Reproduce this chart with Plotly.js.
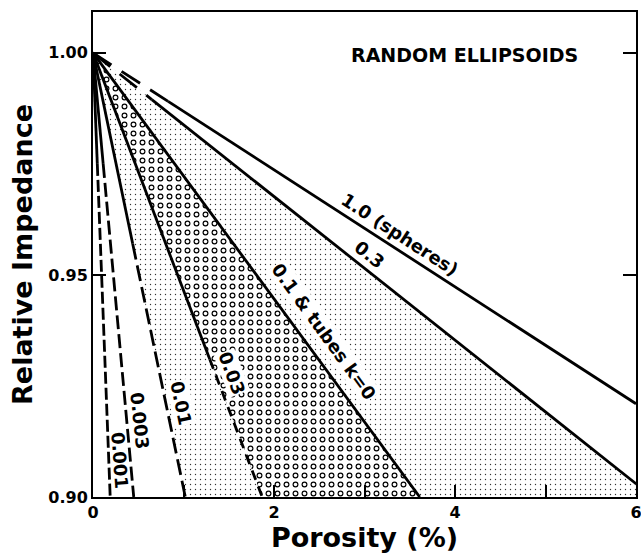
<!DOCTYPE html>
<html><head><meta charset="utf-8">
<script src="https://cdn.plot.ly/plotly-3.0.1.min.js"></script>
<style>html,body{margin:0;padding:0;background:#fff}</style>
</head><body><div id="chart" style="width:641px;height:559px"></div>
<script>
// Aspect ratio of the random ellipsoids (curve labels)
const aspectLabels = ['0.001', '0.003', '0.01', '0.03', '0.1 & tubes k=0', '0.3', '1.0 (spheres)'];
// Every curve starts at porosity 0, impedance 1.00
const startPorosity = 0;
const startImpedance = 1.00;
// End point of each curve (porosity %, relative impedance)
const endPorosity = [0.19, 0.45, 1.02, 1.87, 3.61, 6.0, 6.0];
const endImpedance = [0.900, 0.900, 0.900, 0.900, 0.900, 0.903, 0.921];
// Steep curves: drawn solid down to this impedance, dashed below it
const solidDownToImpedance = [0.975, 0.975, 0.957, 0.931, 0.900, null, null];
// Shallow curves: drawn dashed up to this porosity, solid beyond it
const dashedUpToPorosity = [null, null, null, null, null, 0.65, 0.83];
// Axis ticks
const yTicks = [0.90, 0.95, 1.00];
const yTickText = ['0.90', '0.95', '1.00'];

const X_MAX = 6, Y_MIN = 0.90, Y_MAX = 1.0092;
const FONT = 'DejaVu Sans';
const dashes = ['12px,4px', '14px,5px', '16px,6px', '10px,7px', 'solid', '22px,12px', '22px,12px'];

function yAt(i, x) { return startImpedance + (endImpedance[i] - startImpedance) * (x - startPorosity) / (endPorosity[i] - startPorosity); }
function xAt(i, y) { return startPorosity + (endPorosity[i] - startPorosity) * (startImpedance - y) / (startImpedance - endImpedance[i]); }

const traces = [];
// shaded regions
function region(xs, ys, pattern) {
  traces.push({x: xs, y: ys, type: 'scatter', mode: 'lines', fill: 'toself', line: {width: 0, color: 'rgba(0,0,0,0)'},
    fillcolor: 'rgba(0,0,0,0)', fillpattern: pattern, hoverinfo: 'skip', showlegend: false});
}
const fineDots = {shape: '.', size: 5, solidity: 0.06, fgcolor: '#333', bgcolor: 'rgba(255,255,255,0)'};
// between 0.01 and 0.03
region([startPorosity, endPorosity[2], endPorosity[3], startPorosity], [startImpedance, endImpedance[2], endImpedance[3], startImpedance], fineDots);
// open circles between 0.03 and 0.1
const bx = [startPorosity, endPorosity[3], endPorosity[4], startPorosity];
const by = [startImpedance, endImpedance[3], endImpedance[4], startImpedance];
region(bx, by, {shape: '.', size: 9, solidity: 0.34, fgcolor: '#000', bgcolor: 'rgba(255,255,255,0)'});
region(bx, by, {shape: '.', size: 9, solidity: 0.12, fgcolor: '#fff', bgcolor: 'rgba(255,255,255,0)'});
// between 0.1 and 0.3
region([startPorosity, endPorosity[4], X_MAX, endPorosity[5], startPorosity],
       [startImpedance, endImpedance[4], Y_MIN, endImpedance[5], startImpedance], fineDots);

function seg(x0, y0, x1, y1, dash) {
  traces.push({x: [x0, x1], y: [y0, y1], type: 'scatter', mode: 'lines',
    line: {color: '#000', width: 2.8, dash: dash}, hoverinfo: 'skip', showlegend: false});
}
for (let i = 0; i < aspectLabels.length; i++) {
  if (solidDownToImpedance[i] !== null) {
    const yb = solidDownToImpedance[i];
    const xb = xAt(i, yb);
    seg(startPorosity, startImpedance, xb, yb, 'solid');
    if (yb > endImpedance[i]) seg(xb, yb, endPorosity[i], endImpedance[i], dashes[i]);
  } else {
    const xb = dashedUpToPorosity[i];
    const yb = yAt(i, xb);
    seg(startPorosity, startImpedance, xb, yb, dashes[i]);
    seg(xb, yb, endPorosity[i], endImpedance[i], 'solid');
  }
}

const labelPos = [[0.30, 0.9083, 86, 18], [0.52, 0.9173, 84, 18], [0.97, 0.9212, 78, 18], [1.54, 0.9279, 69, 18],
                  [2.55, 0.9372, 54, 18], [3.06, 0.9547, 38, 18], [3.39, 0.959, 33, 18]];
const annotations = aspectLabels.map((t, i) => ({
  x: labelPos[i][0], y: labelPos[i][1], xref: 'x', yref: 'y', text: t, showarrow: false,
  textangle: labelPos[i][2], font: {family: FONT, size: labelPos[i][3], color: '#000', weight: 'bold'},
  bgcolor: (i >= 2 && i <= 4) ? '#fff' : 'rgba(0,0,0,0)', borderpad: 0
}));
annotations.push({x: 4.11, y: 0.9995, xref: 'x', yref: 'y', text: 'RANDOM ELLIPSOIDS', showarrow: false,
  font: {family: FONT, size: 19, color: '#000', weight: 'bold'}});

const tickFont = {family: FONT, size: 16, color: '#000', weight: 'bold'};
const layout = {
  width: 641, height: 559,
  margin: {l: 93, r: 5, t: 12, b: 62},
  paper_bgcolor: '#fff', plot_bgcolor: '#fff',
  showlegend: false,
  xaxis: {range: [0, X_MAX], tickmode: 'linear', tick0: 0, dtick: 2, ticks: 'inside', ticklen: 12, tickwidth: 2,
    tickcolor: '#000', minor: {tickmode: 'linear', tick0: 0, dtick: 1, ticks: 'inside', ticklen: 12, tickwidth: 2, tickcolor: '#000', showgrid: false},
    ticklabeloverflow: 'allow',
    showline: true, linewidth: 2, linecolor: '#000', mirror: true, showgrid: false, zeroline: false,
    tickfont: tickFont, fixedrange: true,
    title: {text: 'Porosity (%)', font: {family: FONT, size: 27, color: '#000', weight: 'bold'}, standoff: 6}},
  yaxis: {range: [Y_MIN, Y_MAX], tickvals: yTicks, ticktext: yTickText, ticks: 'inside', ticklen: 13, tickwidth: 2,
    tickcolor: '#000', showline: true, linewidth: 2, linecolor: '#000', mirror: 'ticks', showgrid: false, zeroline: false,
    tickfont: tickFont, fixedrange: true,
    title: {text: 'Relative Impedance', font: {family: FONT, size: 27, color: '#000', weight: 'bold'}, standoff: 8}},
  annotations: annotations
};
Plotly.newPlot('chart', traces, layout, {staticPlot: true, displayModeBar: false});
</script></body></html>
